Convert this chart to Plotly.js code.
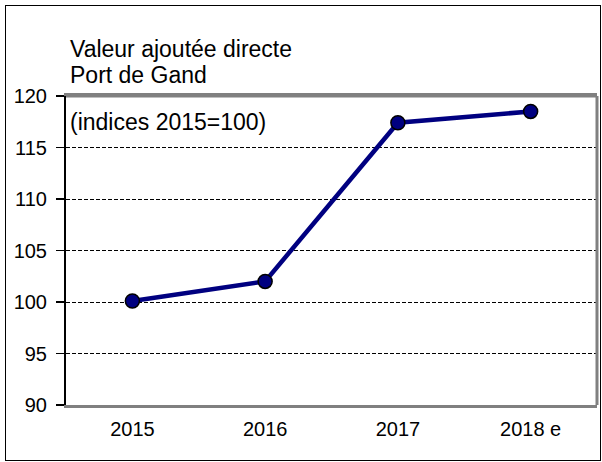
<!DOCTYPE html>
<html>
<head>
<meta charset="utf-8">
<script src="https://cdn.plot.ly/plotly-3.0.1.min.js"></script>
<style>
html,body{margin:0;padding:0;background:#fff;}
#wrap{position:relative;width:602px;height:462px;}
#chart{position:absolute;left:0;top:0;width:602px;height:462px;}
#frame{position:absolute;left:5px;top:5px;width:594px;height:454px;border:1.5px solid #000;pointer-events:none;}
</style>
</head>
<body>
<div id="wrap"><div id="chart"></div><div id="frame"></div></div>
<script>
const categories = ["2015", "2016", "2017", "2018 e"];
const values = [100.1, 102.0, 117.4, 118.5];
const yTicks = [90, 95, 100, 105, 110, 115, 120];
const titleLines = ["Valeur ajoutée directe", "Port de Gand"];
const noteText = "(indices 2015=100)";

const font = "Liberation Sans, Arial, sans-serif";

const trace = {
  x: categories,
  y: values,
  type: "scatter",
  mode: "lines+markers",
  line: {color: "#000080", width: 4.5},
  marker: {color: "#000080", size: 14, line: {color: "#000000", width: 1.5}},
  hoverinfo: "skip"
};

function txt(text, y) {
  return {text: text, xref: "paper", yref: "paper", x: 0.004, y: y,
    xanchor: "left", yanchor: "middle", align: "left", showarrow: false,
    font: {family: font, size: 23, color: "#000"}};
}

const layout = {
  width: 602, height: 462,
  margin: {l: 66, r: 5, t: 96, b: 57},
  paper_bgcolor: "#ffffff",
  plot_bgcolor: "#ffffff",
  showlegend: false,
  font: {family: font, size: 20, color: "#000"},
  xaxis: {
    type: "category",
    range: [-0.5, 3.5],
    tickvals: categories,
    ticktext: categories,
    showgrid: false,
    zeroline: false,
    showline: true,
    linecolor: "#808080",
    linewidth: 3,
    mirror: true,
    ticks: "",
    tickfont: {family: font, size: 20, color: "#000"},
    ticklabelstandoff: 4
  },
  yaxis: {
    range: [90, 120],
    tickvals: yTicks,
    ticktext: yTicks.map(String),
    showgrid: true,
    gridcolor: "#000000",
    gridwidth: 1,
    griddash: "4px,2px",
    zeroline: false,
    showline: true,
    linecolor: "#000000",
    linewidth: 2,
    ticks: "outside",
    ticklen: 8,
    tickwidth: 1.5,
    tickcolor: "#000",
    tickfont: {family: font, size: 20, color: "#000"},
    ticklabelstandoff: 5
  },
  shapes: [
    {type: "line", xref: "paper", yref: "paper", x0: 1, x1: 1, y0: 0, y1: 1,
     line: {color: "#808080", width: 3}},
    {type: "line", xref: "paper", yref: "paper", x0: 0, x1: 1, y0: 1, y1: 1,
     line: {color: "#808080", width: 3}}
  ],
  annotations: [
    txt(titleLines[0], 1.152),
    txt(titleLines[1], 1.068),
    txt(noteText, 0.915)
  ]
};

Plotly.newPlot("chart", [trace], layout, {staticPlot: true, displayModeBar: false});
</script>
</body>
</html>
